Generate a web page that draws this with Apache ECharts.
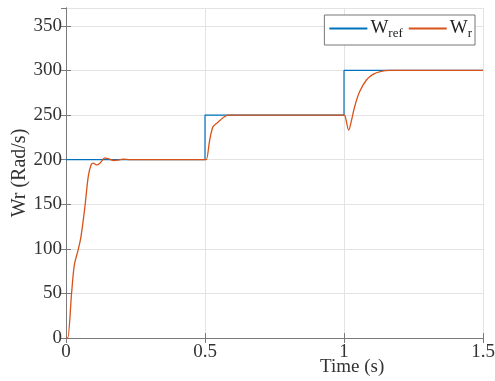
<!DOCTYPE html>
<html><head><meta charset="utf-8">
<script src="https://cdn.jsdelivr.net/npm/echarts@6/dist/echarts.min.js"></script>
<style>html,body{margin:0;padding:0;background:#fff}#c{width:495px;height:381px}</style>
</head><body><div id="c"></div>
<script>
var refTime = [0, 0.5, 0.5, 1.0, 1.0, 1.5];
var refValues = [200, 200, 250, 250, 300, 300];
var wrTime = [0, 0.006, 0.02, 0.03, 0.044, 0.054, 0.068, 0.08, 0.09, 0.098, 0.11, 0.122, 0.14, 0.152, 0.17, 0.188, 0.206, 0.23,
  0.502, 0.505, 0.517, 0.529, 0.547, 0.565, 0.583, 0.62,
  1.0, 1.004, 1.017, 1.027, 1.038, 1.056, 1.08, 1.104, 1.134, 1.164, 1.5];
var wrValues = [0, 0, 50, 82, 99, 114, 147, 181, 194, 196, 194, 196, 202, 201, 199, 199.5, 200.5, 200,
  200, 200, 222, 237, 242, 247, 250, 250,
  250, 249, 233, 244, 259, 276, 289, 295.6, 299, 300, 300];
var xTicks = [0, 0.5, 1, 1.5];
var yTicks = [0, 50, 100, 150, 200, 250, 300, 350];

var chart = echarts.init(document.getElementById('c'));
var ff = 'Liberation Serif';
var axisCol = '#7a7a7a';
function pairs(a, b) { return a.map(function (t, i) { return [t, b[i]]; }); }
chart.setOption({
  animation: false,
  textStyle: {fontFamily: ff},
  grid: {left: 66, right: 12, top: 8, bottom: 43, containLabel: false, outerBoundsMode: 'none'},
  xAxis: [
    {type: 'value', min: 0, max: 1.5, interval: 0.5, position: 'bottom',
      axisLine: {lineStyle: {color: axisCol, width: 1}},
      axisTick: {inside: true, length: 5, lineStyle: {color: axisCol}},
      axisLabel: {fontFamily: ff, fontSize: 19, color: '#333', margin: 5,
        formatter: function (v) { return xTicks.indexOf(v) >= 0 ? String(v) : ''; }},
      splitLine: {show: true, lineStyle: {color: '#e3e3e3'}}},
    {type: 'value', min: 0, max: 1.5, interval: 0.5, position: 'top',
      axisLine: {lineStyle: {color: axisCol, width: 1}},
      axisTick: {inside: true, length: 5, lineStyle: {color: axisCol}},
      axisLabel: {show: false}, splitLine: {show: false}}
  ],
  yAxis: [
    {type: 'value', min: 0, max: 370, interval: 50, position: 'left',
      axisLine: {show: true, lineStyle: {color: axisCol, width: 1}},
      axisTick: {show: true, inside: true, length: 5, lineStyle: {color: axisCol}},
      axisLabel: {fontFamily: ff, fontSize: 19, color: '#333', margin: 4, showMaxLabel: false,
        formatter: function (v) { return yTicks.indexOf(v) >= 0 ? String(v) : ''; }},
      splitLine: {show: true, lineStyle: {color: '#e3e3e3'}},
      name: 'Wr (Rad/s)', nameLocation: 'middle', nameGap: 36, nameMoveOverlap: false,
      nameTextStyle: {fontFamily: ff, fontSize: 20, color: '#333'}},
    {type: 'value', min: 0, max: 370, interval: 50, position: 'right',
      axisLine: {show: true, lineStyle: {color: axisCol, width: 1}},
      axisTick: {show: true, inside: true, length: 5, lineStyle: {color: axisCol}},
      axisLabel: {show: false}, splitLine: {show: false}}
  ],
  legend: {
    right: 20, top: 15, orient: 'horizontal',
    backgroundColor: '#fff', borderColor: '#777', borderWidth: 1, borderRadius: 0,
    padding: [4, 3, 5, 5], itemGap: 6, itemWidth: 38, itemHeight: 2,
    icon: 'rect',
    data: ['ref', 'r'],
    formatter: function (n) { return '{w|W}{s|' + n + '}'; },
    textStyle: {padding: [0, 0, 0, -2], rich: {
      w: {fontFamily: ff, fontSize: 19, color: '#222'},
      s: {fontFamily: ff, fontSize: 13, color: '#222', verticalAlign: 'bottom', padding: [10, 0, 0, 0]}
    }}
  },
  graphic: [{type: 'text', left: 320, top: 358, style: {text: 'Time (s)', font: '19px Liberation Serif', fill: '#333'}}],
  series: [
    {name: 'ref', type: 'line', xAxisIndex: 0, yAxisIndex: 0, data: pairs(refTime, refValues), showSymbol: false,
      lineStyle: {color: '#0072BD', width: 1.2}, itemStyle: {color: '#0072BD'}},
    {name: 'r', type: 'line', xAxisIndex: 0, yAxisIndex: 0, data: pairs(wrTime, wrValues), showSymbol: false, smooth: 0.3,
      lineStyle: {color: '#D95319', width: 1.3}, itemStyle: {color: '#D95319'}}
  ]
});
</script></body></html>
